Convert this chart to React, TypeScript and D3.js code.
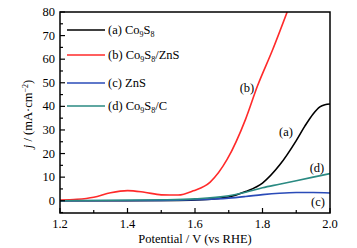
import React from "react";
import * as d3 from "d3";

const potA = [1.2, 1.4, 1.55, 1.62, 1.67, 1.7, 1.75, 1.8, 1.85, 1.9, 1.925, 1.95, 1.97, 1.985, 2.0];
const valA = [0, 0, 0.1, 0.4, 1.0, 1.6, 3.9, 7.5, 15, 25.5, 31.5, 36.8, 39.8, 40.7, 41];

const potB = [1.2, 1.25, 1.3, 1.35, 1.4, 1.45, 1.5, 1.55, 1.595, 1.645, 1.696, 1.75, 1.785, 1.83, 1.873];
const valB = [0.3, 0.6, 1.5, 3.4, 4.3, 3.6, 2.5, 2.4, 4.2, 7.9, 17.7, 34.6, 48.6, 64, 80];

const potC = [1.2, 1.5, 1.6, 1.7, 1.75, 1.8, 1.85, 1.9, 1.95, 2.0];
const valC = [0, 0.1, 0.4, 1.1, 1.8, 2.6, 3.2, 3.5, 3.5, 3.3];

const potD = [1.2, 1.5, 1.6, 1.7, 1.75, 1.8, 1.85, 1.9, 1.95, 2.0];
const valD = [0, 0.4, 0.8, 2.1, 3.6, 5.5, 7.0, 8.5, 10.0, 11.5];

const xTicks = [1.2, 1.4, 1.6, 1.8, 2.0];
const yTicks = [0, 10, 20, 30, 40, 50, 60, 70, 80];

const colors = ["#000000", "#ff2a2a", "#2a4bb8", "#2a8a82"];

const L = 60, R = 330, T = 12, B = 213;

export default function App() {
  const x = d3.scaleLinear().domain([1.2, 2.0]).range([L, R]);
  const y = d3.scaleLinear().domain([-5.2, 80]).range([B, T]);
  const line = (p: number[], v: number[]) =>
    d3.line<number>().x((_, i) => x(p[i])).y((_, i) => y(v[i])).curve(d3.curveMonotoneX)(v) || "";
  const series = [
    { p: potA, v: valA },
    { p: potB, v: valB },
    { p: potC, v: valC },
    { p: potD, v: valD },
  ];
  const xMinor = d3.range(1.3, 2.0, 0.2);
  const yMinor = d3.range(-5, 80, 10);
  const font = "'Liberation Serif', 'Times New Roman', Times, serif";
  const legend = [
    { label: "(a) Co", sub1: "9", mid: "S", sub2: "8", tail: "" },
    { label: "(b) Co", sub1: "9", mid: "S", sub2: "8", tail: "/ZnS" },
    { label: "(c) ZnS", sub1: "", mid: "", sub2: "", tail: "" },
    { label: "(d) Co", sub1: "9", mid: "S", sub2: "8", tail: "/C" },
  ];
  const legY = [30, 55, 83, 106];
  const fs = 12.5;
  return (
    <svg width={357} height={248} style={{ position: "absolute", left: 0, top: 0, background: "#fff", fontFamily: font }}>
      <defs>
        <clipPath id="plot">
          <rect x={L} y={T} width={R - L} height={B - T} />
        </clipPath>
      </defs>
      <g clipPath="url(#plot)">
        {series.map((s, i) => (
          <path key={i} d={line(s.p, s.v)} fill="none" stroke={colors[i]} strokeWidth={1.6} />
        ))}
      </g>
      <rect x={L} y={T} width={R - L} height={B - T} fill="none" stroke="#000" strokeWidth={1.5} />
      {xTicks.map((t) => (
        <g key={t}>
          <line x1={x(t)} x2={x(t)} y1={B} y2={B - 5} stroke="#000" strokeWidth={1.2} />
          <text x={x(t)} y={228} textAnchor="middle" fontSize={fs}>{t.toFixed(1)}</text>
        </g>
      ))}
      {xMinor.map((t) => (
        <line key={t} x1={x(t)} x2={x(t)} y1={B} y2={B - 3} stroke="#000" strokeWidth={1.2} />
      ))}
      {yTicks.map((t) => (
        <g key={t}>
          <line x1={L} x2={L + 5} y1={y(t)} y2={y(t)} stroke="#000" strokeWidth={1.2} />
          <text x={55} y={y(t) + 4} textAnchor="end" fontSize={fs}>{t}</text>
        </g>
      ))}
      {yMinor.map((t) => (
        <line key={t} x1={L} x2={L + 3} y1={y(t)} y2={y(t)} stroke="#000" strokeWidth={1.2} />
      ))}
      <text x={195} y={243} textAnchor="middle" fontSize={fs}>Potential / V (vs RHE)</text>
      <text transform="translate(32,114) rotate(-90)" textAnchor="middle" fontSize={fs}>
        <tspan fontStyle="italic">j</tspan> / (mA·cm<tspan dy={-4} fontSize={8}>−2</tspan><tspan dy={4}>)</tspan>
      </text>
      {legend.map((l, i) => (
        <g key={i}>
          <line x1={67} x2={105} y1={legY[i]} y2={legY[i]} stroke={colors[i]} strokeWidth={1.6} />
          <text x={108} y={legY[i] + 4} fontSize={fs}>
            {l.label}
            {l.sub1 && <tspan dy={3} fontSize={8}>{l.sub1}</tspan>}
            {l.mid && <tspan dy={-3}>{l.mid}</tspan>}
            {l.sub2 && <tspan dy={3} fontSize={8}>{l.sub2}</tspan>}
            {l.tail && <tspan dy={-3}>{l.tail}</tspan>}
          </text>
        </g>
      ))}
      <text x={247} y={92} textAnchor="middle" fontSize={fs}>(b)</text>
      <text x={286} y={136} textAnchor="middle" fontSize={fs}>(a)</text>
      <text x={317} y={172} textAnchor="middle" fontSize={fs}>(d)</text>
      <text x={318} y={206} textAnchor="middle" fontSize={fs}>(c)</text>
    </svg>
  );
}
